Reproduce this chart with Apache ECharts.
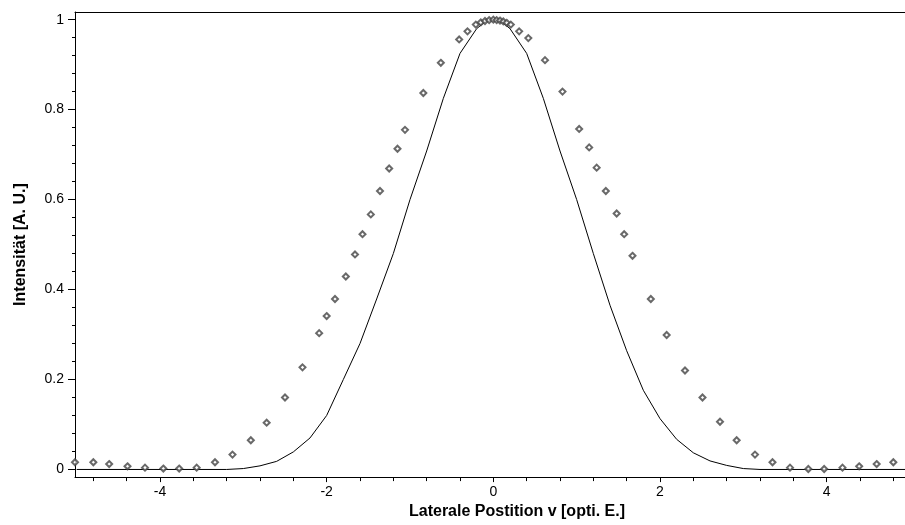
<!DOCTYPE html>
<html>
<head>
<meta charset="utf-8">
<script src="https://cdn.jsdelivr.net/npm/echarts@6/dist/echarts.min.js"></script>
<style>
html,body{margin:0;padding:0;background:#fff;}
#chart{width:905px;height:525px;}
</style>
</head>
<body>
<div id="chart"></div>
<script>
// ---- data ----
const curveX = [-5.0, -4.0, -3.2, -3.0, -2.8, -2.6, -2.4, -2.2, -2.0, -1.8, -1.6, -1.4, -1.2, -1.0, -0.8, -0.6, -0.4, -0.2, -0.1, 0.0,
                 0.1, 0.2, 0.4, 0.6, 0.8, 1.0, 1.2, 1.4, 1.6, 1.8, 2.0, 2.2, 2.4, 2.6, 2.8, 3.0, 3.2, 4.0, 5.0];
const curveY = [0, 0, 0, 0.002, 0.008, 0.018, 0.039, 0.07, 0.12, 0.2, 0.28, 0.379, 0.48, 0.6, 0.708, 0.825, 0.925, 0.98, 0.995, 1.0,
                 0.995, 0.98, 0.925, 0.825, 0.708, 0.6, 0.48, 0.365, 0.264, 0.176, 0.113, 0.067, 0.037, 0.019, 0.009, 0.002, 0, 0, 0];

const pointX = [-5.02, -4.80, -4.61, -4.39, -4.18, -3.96, -3.77, -3.56, -3.34, -3.13, -2.91, -2.72, -2.50, -2.29, -2.09, -2.00,
                -1.90, -1.77, -1.66, -1.57, -1.47, -1.36, -1.25, -1.15, -1.06, -0.84, -0.63, -0.41, -0.31, -0.21,
                -0.15, -0.10, -0.05, 0.00, 0.04, 0.08, 0.12, 0.16,
                0.21, 0.31, 0.42, 0.62, 0.83, 1.03, 1.15, 1.24, 1.35, 1.48, 1.57, 1.67, 1.89, 2.08, 2.30, 2.51, 2.72,
                2.92, 3.14, 3.35, 3.56, 3.78, 3.97, 4.19, 4.39, 4.60, 4.80];
const pointY = [0.016, 0.016, 0.012, 0.007, 0.004, 0.002, 0.002, 0.004, 0.016, 0.033, 0.065, 0.104, 0.160, 0.227, 0.303, 0.341,
                0.379, 0.429, 0.478, 0.523, 0.567, 0.619, 0.669, 0.713, 0.755, 0.837, 0.904, 0.956, 0.974, 0.989,
                0.994, 0.997, 0.999, 1.0, 0.999, 0.998, 0.996, 0.993,
                0.989, 0.974, 0.959, 0.910, 0.840, 0.757, 0.716, 0.671, 0.619, 0.569, 0.523, 0.475, 0.379, 0.299, 0.220, 0.160, 0.106,
                0.065, 0.033, 0.016, 0.004, 0.001, 0.001, 0.004, 0.007, 0.012, 0.016];

const xMajorTicks = [-4, -2, 0, 2, 4];
const xMinorTicks = [-4.8, -4.4, -3.6, -3.2, -2.8, -2.4, -1.6, -1.2, -0.8, -0.4, 0.4, 0.8, 1.2, 1.6, 2.4, 2.8, 3.2, 3.6, 4.4, 4.8];
const yMajorTicks = [0, 0.2, 0.4, 0.6, 0.8, 1];
const yMinorTicks = [0.04, 0.08, 0.12, 0.16, 0.24, 0.28, 0.32, 0.36, 0.44, 0.48, 0.52, 0.56, 0.64, 0.68, 0.72, 0.76, 0.84, 0.88, 0.92, 0.96];

const xTitle = 'Laterale Postition v [opti. E.]';
const yTitle = 'Intensität [A. U.]';

// ---- chart ----
const FONT = '"Liberation Sans", Arial, sans-serif';
const chart = echarts.init(document.getElementById('chart'), null, {renderer: 'canvas'});

const curveData = curveX.map((x, i) => [x, curveY[i]]);
const pointData = pointX.map((x, i) => [x, pointY[i]]);

const xRange = {min: -5.02, max: 4.94};
const yRange = {min: -0.017, max: 1.017};

chart.setOption({
  animation: false,
  backgroundColor: '#fff',
  grid: {
    left: 75, top: 12, right: 0, height: 467,
    show: false
  },
  xAxis: [
    {
      type: 'value', min: xRange.min, max: xRange.max, position: 'bottom',
      name: xTitle, nameLocation: 'middle', nameGap: 24,
      nameTextStyle: {fontFamily: FONT, fontSize: 16, fontWeight: 'bold', color: '#000', padding: [0, 0, 0, 54]},
      axisLine: {show: true, onZero: false, lineStyle: {color: '#000', width: 1}},
      axisTick: {show: true, customValues: xMajorTicks, length: 5, lineStyle: {color: '#000'}},
      axisLabel: {show: true, customValues: xMajorTicks, margin: 8, fontFamily: FONT, fontSize: 14, color: '#000'},
      splitLine: {show: false}
    },
    {
      type: 'value', min: xRange.min, max: xRange.max, position: 'bottom', gridIndex: 0,
      axisLine: {show: false, onZero: false},
      axisTick: {show: true, customValues: xMinorTicks, length: 4, lineStyle: {color: '#000'}},
      axisLabel: {show: false},
      splitLine: {show: false}
    },
    {
      type: 'value', min: xRange.min, max: xRange.max, position: 'top', gridIndex: 0,
      axisLine: {show: true, onZero: false, lineStyle: {color: '#000', width: 1}},
      axisTick: {show: false},
      axisLabel: {show: false},
      splitLine: {show: false}
    }
  ],
  yAxis: [
    {
      type: 'value', min: yRange.min, max: yRange.max, position: 'left',
      name: yTitle, nameLocation: 'middle', nameGap: 46,
      nameTextStyle: {fontFamily: FONT, fontSize: 16, fontWeight: 'bold', color: '#000'},
      axisLine: {show: true, onZero: false, lineStyle: {color: '#000', width: 1}},
      axisTick: {show: true, customValues: yMajorTicks, length: 7, lineStyle: {color: '#000'}},
      axisLabel: {show: true, customValues: yMajorTicks, margin: 11, fontFamily: FONT, fontSize: 14, color: '#000'},
      splitLine: {show: false}
    },
    {
      type: 'value', min: yRange.min, max: yRange.max, position: 'left', gridIndex: 0,
      axisLine: {show: false, onZero: false},
      axisTick: {show: true, customValues: yMinorTicks, length: 3, lineStyle: {color: '#000'}},
      axisLabel: {show: false},
      splitLine: {show: false}
    }
  ],
  series: [
    {
      type: 'line', data: curveData, xAxisIndex: 0, yAxisIndex: 0,
      showSymbol: false, symbol: 'none', smooth: false,
      lineStyle: {color: '#000', width: 1}, z: 2
    },
    {
      type: 'scatter', data: pointData, xAxisIndex: 0, yAxisIndex: 0,
      symbol: 'emptyDiamond', symbolSize: 6, clip: false,
      itemStyle: {color: '#444', borderWidth: 1}, z: 3
    }
  ]
});
</script>
</body>
</html>
